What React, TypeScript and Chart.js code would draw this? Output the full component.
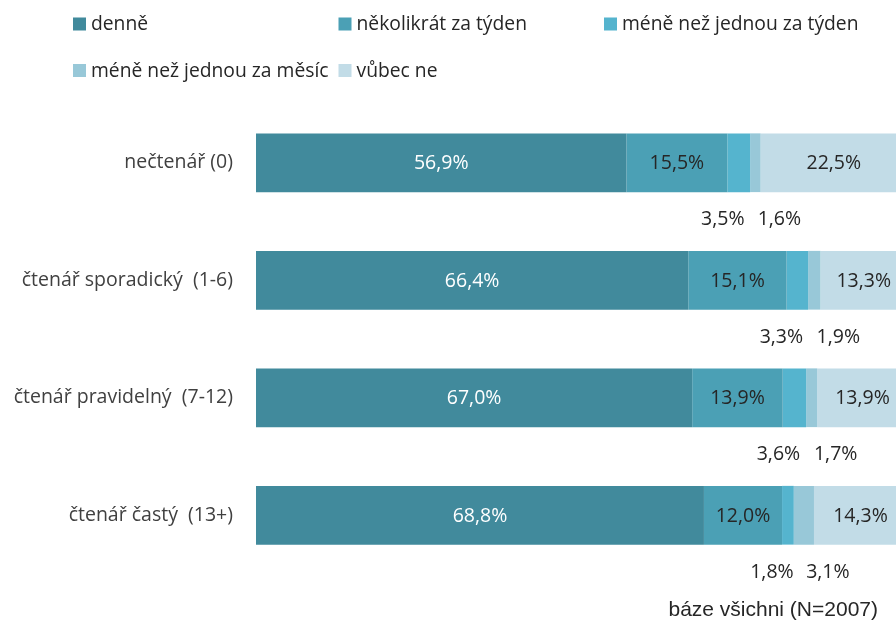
import React, { useEffect, useRef } from "react";
import { Chart, registerables } from "chart.js";

Chart.register(...registerables);

const categories = [
  "nečtenář (0)",
  "čtenář sporadický  (1-6)",
  "čtenář pravidelný  (7-12)",
  "čtenář častý  (13+)",
];
const seriesNames = [
  "denně",
  "několikrát za týden",
  "méně než jednou za týden",
  "méně než jednou za měsíc",
  "vůbec ne",
];
const denne = [56.9, 66.4, 67.0, 68.8];
const nekolikrat = [15.5, 15.1, 13.9, 12.0];
const mene_tyden = [3.5, 3.3, 3.6, 1.8];
const mene_mesic = [1.6, 1.9, 1.7, 3.1];
const vubec = [22.5, 13.3, 13.9, 14.3];
const seriesValues = [denne, nekolikrat, mene_tyden, mene_mesic, vubec];
const colors = ["#418A9C", "#4BA0B5", "#55B4CE", "#98C8D8", "#C2DCE7"];
const footnote = "báze všichni (N=2007)";

const FONT = "'Open Sans', 'Noto Sans', sans-serif";
const fmt = (v: number) => v.toFixed(1).replace(".", ",") + "%";

const legendPlugin = {
  id: "gridLegend",
  afterDraw(chart: any) {
    const ctx = chart.ctx;
    ctx.save();
    ctx.font = `19.3px ${FONT}`;
    ctx.textBaseline = "middle";
    ctx.textAlign = "left";
    const order = [0, 1, 2, 3, 4];
    order.forEach((i, k) => {
      const col = k % 3;
      const row = Math.floor(k / 3);
      const x = 73 + col * 265.5;
      const y = 24 + row * 46.5;
      ctx.fillStyle = chart.data.datasets[i].backgroundColor;
      ctx.fillRect(x, y - 6.5, 13, 13);
      ctx.fillStyle = "#262626";
      ctx.fillText(chart.data.datasets[i].label, x + 18, y + 1);
    });
    ctx.font = `21px 'Liberation Sans', Arial, sans-serif`;
    ctx.textAlign = "right";
    ctx.fillStyle = "#262626";
    ctx.fillText(footnote, 878, 610);
    ctx.restore();
  },
};

const labelPlugin = {
  id: "segLabels",
  afterDatasetsDraw(chart: any) {
    const ctx = chart.ctx;
    ctx.save();
    ctx.font = `19.5px ${FONT}`;
    ctx.textBaseline = "middle";
    ctx.textAlign = "center";
    chart.data.datasets.forEach((ds: any, di: number) => {
      const meta = chart.getDatasetMeta(di);
      meta.data.forEach((el: any, i: number) => {
        const v = ds.data[i];
        const cx = (el.x + el.base) / 2;
        const cy = el.y;
        if (di === 2 || di === 3) {
          ctx.fillStyle = "#262626";
          const dx = di === 2 ? -16 : 24;
          ctx.fillText(fmt(v), cx + dx, cy + 57);
        } else {
          ctx.fillStyle = di === 0 ? "#FFFFFF" : "#262626";
          ctx.fillText(fmt(v), cx, cy + 1);
        }
      });
    });
    ctx.restore();
  },
};

export default function App() {
  const ref = useRef<HTMLCanvasElement | null>(null);
  useEffect(() => {
    if (!ref.current) return;
    const chart = new Chart(ref.current, {
      type: "bar",
      data: {
        labels: categories,
        datasets: seriesNames.map((name, i) => ({
          label: name,
          data: seriesValues[i],
          backgroundColor: colors[i],
          borderWidth: 0,
          categoryPercentage: 1,
          barPercentage: 0.5,
        })),
      },
      options: {
        indexAxis: "y",
        responsive: false,
        animation: false,
        layout: { padding: { top: 104, bottom: 47, left: 0, right: 0 } },
        plugins: {
          legend: { display: false },
          tooltip: { enabled: false },
        },
        scales: {
          x: {
            stacked: true,
            display: false,
            min: 0,
            max: 98.3,
          },
          y: {
            stacked: true,
            grid: { display: false },
            border: { display: false },
            afterFit: (s: any) => {
              s.width = 256;
            },
            ticks: {
              padding: 15,
              color: "#404040",
              font: { family: FONT, size: 19.5 },
            },
          },
        },
      },
      plugins: [labelPlugin, legendPlugin],
    } as any);
    return () => chart.destroy();
  }, []);
  return (
    <div style={{ position: "fixed", left: 0, top: 0, width: 896, height: 621, background: "#fff" }}>
      <canvas ref={ref} width={896} height={621} style={{ display: "block" }} />
    </div>
  );
}
